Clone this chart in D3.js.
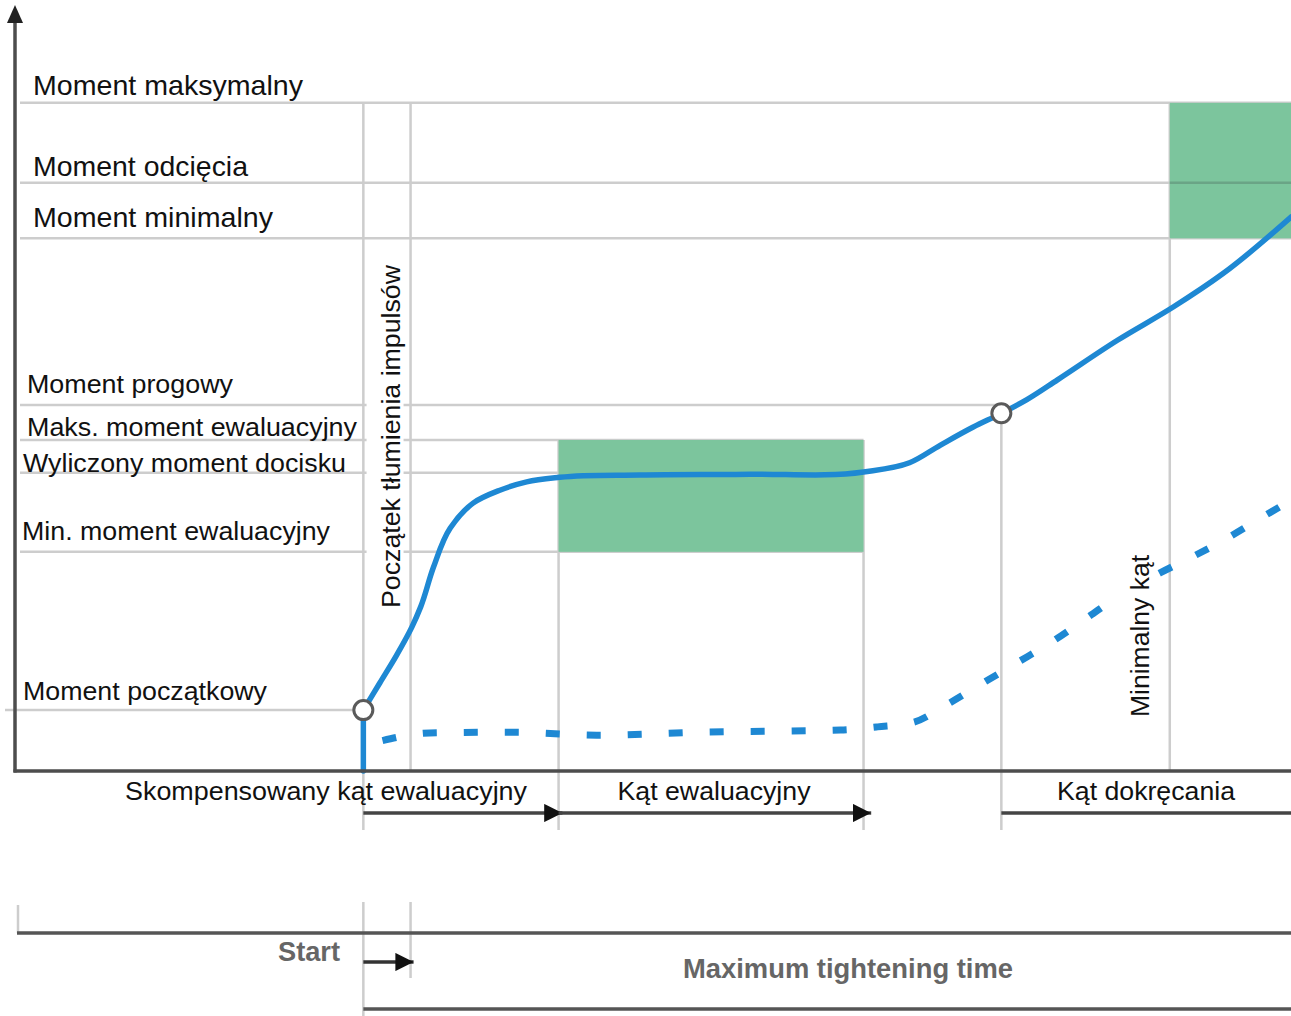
<!DOCTYPE html>
<html>
<head>
<meta charset="utf-8">
<script src="https://cdn.jsdelivr.net/npm/d3@7"></script>
<style>
  html, body { margin: 0; padding: 0; background: #fff; }
  svg { display: block; }
  text { font-family: "Liberation Sans", Arial, sans-serif; }
</style>
</head>
<body>
<svg id="chart" width="1291" height="1016"></svg>
<script>
// ---------- DATA (abstract units: angle 0..100, torque 0..100) ----------
const levelNames = [
  "Moment maksymalny", "Moment odcięcia", "Moment minimalny", "Moment progowy",
  "Maks. moment ewaluacyjny", "Wyliczony moment docisku", "Min. moment ewaluacyjny", "Moment początkowy"
];
const levelValues = [87.8, 77.3, 70.0, 48.1, 43.5, 39.2, 28.8, 8.0];
const levelEnds   = [100, 100, 100, 77.3, 66.5, 42.6, 66.5, 27.3];

const angleMarks = [27.3, 31.0, 42.6, 66.5, 77.3, 90.5];

// torque curve (solid)
const torqueAngle = [27.3, 27.3, 28.6, 29.9, 31.1, 31.8, 32.8, 34.1, 35.9, 38.0, 40.1, 42.7, 49.0, 57.6, 66.5, 70.1, 72.5, 75.1, 77.3, 79.3, 81.7, 86.4, 90.8, 94.7, 100];
const torqueValue = [0.0, 8.0, 11.6, 15.2, 18.9, 21.6, 26.8, 31.9, 35.2, 36.9, 38.0, 38.6, 38.9, 39.0, 39.3, 40.5, 42.8, 45.2, 47.0, 48.8, 51.4, 56.6, 61.0, 65.4, 72.8];

// angle curve (dashed)
const angleCurveX = [28.8, 32.5, 39.0, 45.6, 53.7, 64.7, 67.6, 70.4, 73.0, 75.9, 78.5, 81.1, 84.0, 86.4, 89.7, 92.1, 95.0, 97.8, 100];
const angleCurveY = [4.0, 5.0, 5.1, 4.7, 5.1, 5.4, 5.8, 6.4, 8.7, 11.6, 14.2, 16.8, 20.1, 22.9, 26.0, 28.0, 30.6, 33.4, 35.6];

// evaluation windows
const windowNames = ["Okno ewaluacyjne", "Okno końcowe"];
const windowX0 = [42.6, 90.5];
const windowX1 = [66.5, 100];
const windowY0 = [28.8, 70.0];
const windowY1 = [43.5, 87.8];

// circles
const markerX = [27.3, 77.3];
const markerY = [8.0, 47.0];

// angle ranges below axis
const rangeNames = ["Skompensowany kąt ewaluacyjny", "Kąt ewaluacyjny", "Kąt dokręcania"];
const rangeStart = [27.3, 42.6, 77.3];
const rangeEnd   = [42.9, 67.1, 100];
const rangeArrow = [true, true, false];

const verticalNames = ["Początek tłumienia impulsów", "Minimalny kąt"];
const timeLabels = ["Start", "Maximum tightening time"];

// ---------- SCALES ----------
const svg = d3.select("#chart");
const x = d3.scaleLinear().domain([0, 100]).range([15, 1291]);
const y = d3.scaleLinear().domain([0, 100]).range([771, 10]);

const gridColor = "#cdcdcd";
const axisColor = "#4d4d4d";
const blue = "#1e88d3";
const green = "#7cc59d";

svg.append("defs").append("marker")
  .attr("id", "arrow").attr("viewBox", "0 0 10 10")
  .attr("refX", 10).attr("refY", 5)
  .attr("markerWidth", 5.2).attr("markerHeight", 5.2)
  .attr("markerUnits", "strokeWidth")
  .attr("orient", "auto")
  .append("path").attr("d", "M0,0 L10,5 L0,10 Z").attr("fill", "#111");

// ---------- HORIZONTAL LEVEL LINES ----------
const levelStartPx = [20, 20, 20, 20, 20, 20, 20, 5];
svg.append("g").selectAll("line").data(levelNames).join("line")
  .attr("x1", (d, i) => levelStartPx[i])
  .attr("x2", (d, i) => x(levelEnds[i]))
  .attr("y1", (d, i) => y(levelValues[i]))
  .attr("y2", (d, i) => y(levelValues[i]))
  .attr("stroke", gridColor)
  .attr("stroke-width", 2.5);

// ---------- VERTICAL MARK LINES ----------
const vTop = [87.8, 87.8, 43.5, 43.5, 48.1, 87.8];
const vBottomPx = [830, 771, 830, 830, 830, 771];
svg.append("g").selectAll("line").data(angleMarks).join("line")
  .attr("x1", d => x(d)).attr("x2", d => x(d))
  .attr("y1", (d, i) => y(vTop[i]))
  .attr("y2", (d, i) => vBottomPx[i])
  .attr("stroke", gridColor).attr("stroke-width", 2.5);

// ---------- WINDOWS ----------
svg.append("g").selectAll("rect").data(windowNames).join("rect")
  .attr("x", (d, i) => x(windowX0[i]))
  .attr("y", (d, i) => y(windowY1[i]))
  .attr("width", (d, i) => x(windowX1[i]) - x(windowX0[i]))
  .attr("height", (d, i) => y(windowY0[i]) - y(windowY1[i]))
  .attr("fill", green);

// cut-off level visible through the end window
svg.append("line")
  .attr("x1", x(windowX0[1])).attr("x2", x(windowX1[1]))
  .attr("y1", y(levelValues[1])).attr("y2", y(levelValues[1]))
  .attr("stroke", "#6aa486").attr("stroke-width", 2.5);

// ---------- LEVEL LABELS ----------
const labelX   = [33, 33, 33, 27, 27, 23, 22, 23];
const labelDy  = [-8, -7, -11, -12, -4, -1, -12, -10];
const labelLen = [270, 215, 240, 206, 330, 323, 308, 244];
const labelFs  = [28, 28, 28, 26.5, 26.5, 26.5, 26.5, 26.5];
svg.append("g").selectAll("text").data(levelNames).join("text")
  .attr("x", (d, i) => labelX[i])
  .attr("y", (d, i) => y(levelValues[i]) + labelDy[i])
  .attr("font-size", (d, i) => labelFs[i])
  .attr("textLength", (d, i) => labelLen[i])
  .attr("lengthAdjust", "spacingAndGlyphs")
  .attr("fill", "#111")
  .text(d => d);

// ---------- CURVES ----------
const solidPts = torqueAngle.map((a, i) => [a, torqueValue[i]]);
const straight = d3.line().x(d => x(d[0])).y(d => y(d[1]));
const smooth = d3.line().x(d => x(d[0])).y(d => y(d[1])).curve(d3.curveCatmullRom.alpha(1));
svg.append("path")
  .attr("d", straight(solidPts.slice(0, 2)) + smooth(solidPts.slice(1)).replace(/^M/, "L"))
  .attr("fill", "none").attr("stroke", blue).attr("stroke-width", 5.5)
  .attr("stroke-linecap", "round").attr("stroke-linejoin", "round");

const dashPts = angleCurveX.map((a, i) => [a, angleCurveY[i]]);
svg.append("path")
  .attr("d", d3.line().x(d => x(d[0])).y(d => y(d[1])).curve(d3.curveMonotoneX)(dashPts))
  .attr("fill", "none").attr("stroke", blue).attr("stroke-width", 7)
  .attr("stroke-dasharray", "14,27");

// ---------- VERTICAL ROTATED LABELS (with white backgrounds) ----------
const vLabelAngle = [31.0, 90.5];
const vLabelStartPx = [608, 717];
const vLabelLen = [343, 162];
const vLabelBaseOff = [-11, -21];
verticalNames.forEach((name, i) => {
  const bx = x(vLabelAngle[i]) + vLabelBaseOff[i];
  svg.append("rect")
    .attr("x", bx - 33).attr("y", vLabelStartPx[i] - vLabelLen[i] - 8)
    .attr("width", 37).attr("height", vLabelLen[i] + 12)
    .attr("fill", "#fff");
  svg.append("text")
    .attr("transform", `translate(${bx},${vLabelStartPx[i]}) rotate(-90)`)
    .attr("font-size", 26.5)
    .attr("textLength", vLabelLen[i])
    .attr("lengthAdjust", "spacingAndGlyphs")
    .attr("fill", "#111")
    .text(name);
});

// ---------- MARKERS ----------
svg.append("g").selectAll("circle").data(markerX).join("circle")
  .attr("cx", d => x(d)).attr("cy", (d, i) => y(markerY[i]))
  .attr("r", 9.5).attr("fill", "#fff")
  .attr("stroke", "#5a5a5a").attr("stroke-width", 3);

// ---------- AXES ----------
svg.append("line")
  .attr("x1", x(0)).attr("x2", x(0)).attr("y1", y(0) + 1.5).attr("y2", 18)
  .attr("stroke", axisColor).attr("stroke-width", 3.5);
svg.append("path").attr("d", `M${x(0) - 8},23 L${x(0)},5 L${x(0) + 8},23 Z`).attr("fill", "#222");
svg.append("line")
  .attr("x1", x(0) - 1.5).attr("x2", x(100)).attr("y1", y(0)).attr("y2", y(0))
  .attr("stroke", axisColor).attr("stroke-width", 3.5);

// ---------- ANGLE RANGES ----------
const rangeLabelCx = [326, 714, 1146];
const rangeLabelLen = [402, 193, 178];
svg.append("g").selectAll("text").data(rangeNames).join("text")
  .attr("x", (d, i) => rangeLabelCx[i])
  .attr("y", 800)
  .attr("text-anchor", "middle")
  .attr("font-size", 26.5)
  .attr("textLength", (d, i) => rangeLabelLen[i])
  .attr("lengthAdjust", "spacingAndGlyphs")
  .attr("fill", "#111")
  .text(d => d);

svg.append("g").selectAll("line").data(rangeNames).join("line")
  .attr("x1", (d, i) => x(rangeStart[i]))
  .attr("x2", (d, i) => x(rangeEnd[i]))
  .attr("y1", 813).attr("y2", 813)
  .attr("stroke", "#444").attr("stroke-width", 3.5)
  .attr("marker-end", (d, i) => rangeArrow[i] ? "url(#arrow)" : null);

// ---------- TIME AXIS ----------
svg.append("line").attr("x1", x(27.3)).attr("x2", x(27.3)).attr("y1", 902).attr("y2", 1016)
  .attr("stroke", gridColor).attr("stroke-width", 2.5);
svg.append("line").attr("x1", x(31.0)).attr("x2", x(31.0)).attr("y1", 902).attr("y2", 978)
  .attr("stroke", gridColor).attr("stroke-width", 2.5);
svg.append("line").attr("x1", 18).attr("x2", 18).attr("y1", 905).attr("y2", 933)
  .attr("stroke", gridColor).attr("stroke-width", 2.5);
svg.append("line").attr("x1", 17).attr("x2", x(100)).attr("y1", 933).attr("y2", 933)
  .attr("stroke", "#555").attr("stroke-width", 3.5);
svg.append("line").attr("x1", x(27.3)).attr("x2", x(100)).attr("y1", 1009).attr("y2", 1009)
  .attr("stroke", "#555").attr("stroke-width", 3.5);
svg.append("line").attr("x1", x(27.3)).attr("x2", x(31.0) + 3).attr("y1", 962).attr("y2", 962)
  .attr("stroke", "#333").attr("stroke-width", 3.5).attr("marker-end", "url(#arrow)");

svg.append("text").attr("x", 340).attr("y", 961).attr("text-anchor", "end")
  .attr("font-size", 27).attr("font-weight", "bold")
  .attr("textLength", 62).attr("lengthAdjust", "spacingAndGlyphs")
  .attr("fill", "#666")
  .text(timeLabels[0]);
svg.append("text").attr("x", 848).attr("y", 978).attr("text-anchor", "middle")
  .attr("font-size", 27).attr("font-weight", "bold")
  .attr("textLength", 330).attr("lengthAdjust", "spacingAndGlyphs")
  .attr("fill", "#666")
  .text(timeLabels[1]);
</script>
</body>
</html>
